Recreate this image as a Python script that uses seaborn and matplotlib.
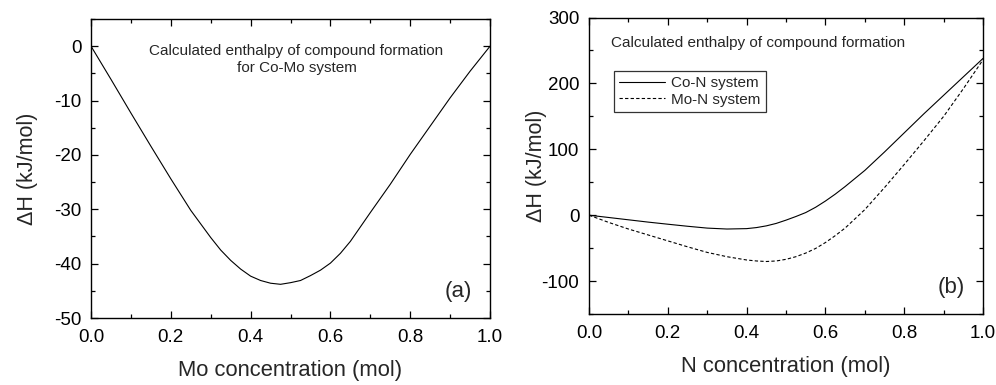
import numpy as np
import pandas as pd
import matplotlib.pyplot as plt
import seaborn as sns
from matplotlib.ticker import MultipleLocator

# Co-Mo curve
mo_x = [0.0, 0.05, 0.1, 0.15, 0.2, 0.25, 0.3, 0.325, 0.35, 0.375, 0.4, 0.425, 0.45, 0.475,
        0.5, 0.525, 0.55, 0.575, 0.6, 0.625, 0.65, 0.7, 0.75, 0.8, 0.85, 0.9, 0.95, 1.0]
mo_dh = [0.0, -6.1, -12.3, -18.4, -24.4, -30.2, -35.2, -37.5, -39.4, -41.0, -42.3, -43.1, -43.6, -43.8,
         -43.5, -43.1, -42.2, -41.2, -39.9, -38.1, -35.9, -30.6, -25.4, -19.9, -14.7, -9.5, -4.6, 0.0]

# Co-N and Mo-N curves
n_x = [0.0, 0.05, 0.1, 0.15, 0.2, 0.25, 0.3, 0.35, 0.4, 0.425, 0.45, 0.475, 0.5,
       0.525, 0.55, 0.575, 0.6, 0.625, 0.65, 0.7, 0.75, 0.8, 0.85, 0.9, 0.95, 1.0]
con_dh = [0.0, -3.5, -7.0, -10.5, -13.7, -16.8, -19.6, -21.0, -20.4, -18.8, -16.2, -12.5, -7.5,
          -2.0, 4.0, 12.0, 21.5, 32.0, 43.5, 68.0, 96.0, 125.0, 154.0, 182.0, 210.0, 238.0]
mon_dh = [0.0, -11.0, -21.0, -30.0, -39.0, -48.0, -56.5, -63.0, -68.0, -69.5, -70.3, -69.5, -67.0,
          -63.0, -57.5, -50.5, -41.5, -31.0, -19.5, 8.5, 42.0, 77.0, 113.0, 150.0, 192.0, 236.0]

df_a = pd.DataFrame({'x': mo_x, 'dH': mo_dh})
df_b = pd.DataFrame({
    'x': n_x * 2,
    'dH': con_dh + mon_dh,
    'system': ['Co-N system'] * len(n_x) + ['Mo-N system'] * len(n_x),
})

sns.set_style("ticks")
plt.rcParams['font.family'] = ['Liberation Sans', 'DejaVu Sans']
plt.rcParams['axes.unicode_minus'] = False

fig = plt.figure(figsize=(9.96, 3.85), dpi=100)
ax1 = fig.add_axes([0.0914, 0.174, 0.4006, 0.7766])
ax2 = fig.add_axes([0.5914, 0.1844, 0.3956, 0.770])


def style_axes(ax):
    for s in ax.spines.values():
        s.set_color('black')
        s.set_linewidth(1.0)
    ax.xaxis.set_major_locator(MultipleLocator(0.2))
    ax.xaxis.set_minor_locator(MultipleLocator(0.1))
    ax.tick_params(which='both', direction='in', top=True, right=True,
                   colors='black', width=0.9)
    ax.tick_params(which='major', length=5, labelsize=13.5, pad=7)
    ax.tick_params(which='minor', length=3)
    ax.tick_params(axis='x', which='major', pad=8)
    ax.xaxis.set_major_formatter(plt.FuncFormatter(lambda v, p: f'{v:.1f}'))


# panel (a)
sns.lineplot(data=df_a, x='x', y='dH', ax=ax1, color='black', linewidth=0.8)
ax1.set_xlim(0, 1.0)
ax1.set_ylim(-50, 5)
style_axes(ax1)
ax1.yaxis.set_major_locator(MultipleLocator(10))
ax1.yaxis.set_minor_locator(MultipleLocator(5))
ax1.set_xlabel('Mo concentration (mol)', fontsize=15.8, labelpad=10)
ax1.set_ylabel('ΔH (kJ/mol)', fontsize=15.5, labelpad=11.5)
ax1.text(0.515, 0.865, 'Calculated enthalpy of compound formation\nfor Co-Mo system',
         transform=ax1.transAxes, ha='center', va='center', fontsize=11,
         linespacing=1.3)
ax1.text(0.955, 0.09, '(a)', transform=ax1.transAxes, ha='right', va='center',
         fontsize=16)

# panel (b)
sns.lineplot(data=df_b, x='x', y='dH', hue='system', style='system', ax=ax2,
             palette=['black', 'black'], dashes=[(None, None), (3, 2)],
             linewidth=0.8)
ax2.set_xlim(0, 1.0)
ax2.set_ylim(-150, 300)
style_axes(ax2)
ax2.yaxis.set_major_locator(MultipleLocator(100))
ax2.yaxis.set_minor_locator(MultipleLocator(50))
ax2.set_xlabel('N concentration (mol)', fontsize=15.8, labelpad=10)
ax2.set_ylabel('ΔH (kJ/mol)', fontsize=15.5, labelpad=-4)
ax2.text(0.055, 0.915, 'Calculated enthalpy of compound formation',
         transform=ax2.transAxes, ha='left', va='center', fontsize=11)
ax2.text(0.955, 0.09, '(b)', transform=ax2.transAxes, ha='right', va='center',
         fontsize=16)
leg = ax2.legend(loc='upper left', bbox_to_anchor=(0.063, 0.82), fontsize=11,
                 frameon=True, fancybox=False, handlelength=3.0,
                 borderpad=0.35, labelspacing=0.15, handletextpad=0.4,
                 borderaxespad=0)
leg.get_frame().set_edgecolor('black')
leg.get_frame().set_linewidth(0.9)

fig.savefig('out.png', dpi=100)
